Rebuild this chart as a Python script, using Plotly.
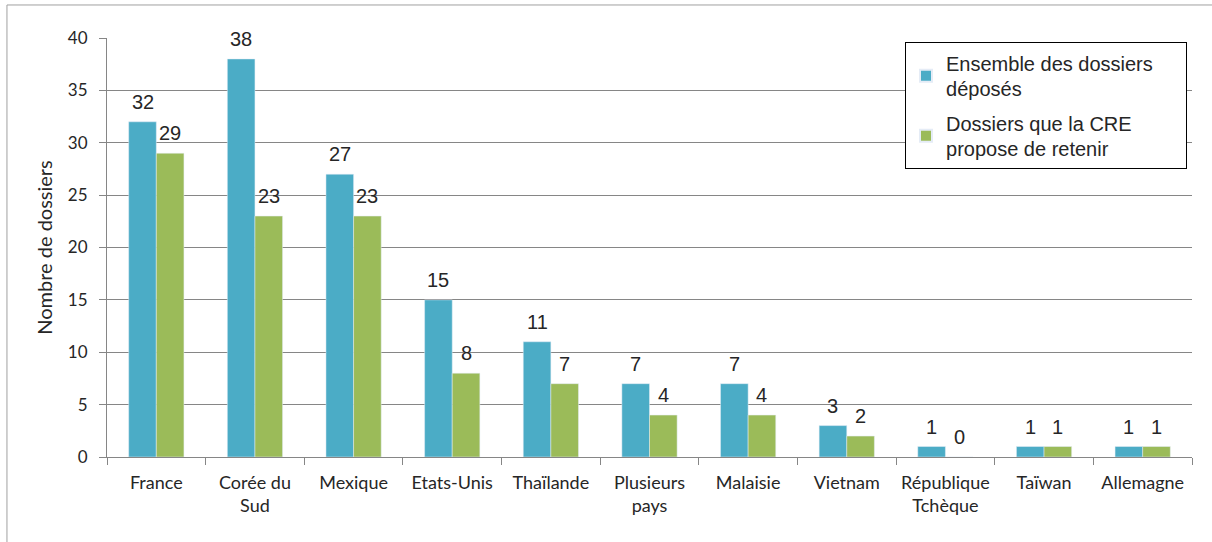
import plotly.graph_objects as go

categories = ["France", "Corée du<br>Sud", "Mexique", "Etats-Unis", "Thaïlande",
              "Plusieurs<br>pays", "Malaisie", "Vietnam", "République<br>Tchèque",
              "Taïwan", "Allemagne"]
deposes = [32, 38, 27, 15, 11, 7, 7, 3, 1, 1, 1]
retenus = [29, 23, 23, 8, 7, 4, 4, 2, 0, 1, 1]
series_names = ["Ensemble des dossiers<br>déposés", "Dossiers que la CRE<br>propose de retenir"]
y_ticks = [0, 5, 10, 15, 20, 25, 30, 35, 40]

BLUE = "#4BACC6"
GREEN = "#9BBB59"
TXT = "#262626"
ARIAL = "Liberation Sans, Arial, sans-serif"
CAL = "Lato, sans-serif"
PAD = "\u00a0" * 5  # widens the legend box

fig = go.Figure()
fig.add_trace(go.Bar(x=categories, y=deposes, name=series_names[0].replace("<br>", PAD + "<br>", 1),
                     marker_color=BLUE, legendgroup="a"))
fig.add_trace(go.Bar(x=categories, y=retenus, name=series_names[1], marker_color=GREEN,
                     legendgroup="b"))

# data labels above bars (positioned by the axes from the data values)
HALF_BAR = 13.8
annotations = []
for vals, shift in ((deposes, -HALF_BAR), (retenus, HALF_BAR)):
    for cat, v in zip(categories, vals):
        annotations.append(dict(x=cat, y=v, xref="x", yref="y", text=str(v),
                                showarrow=False, xshift=shift, yshift=7,
                                yanchor="bottom", xanchor="center",
                                font=dict(family=ARIAL, size=20, color=TXT)))

fig.update_layout(
    width=1212, height=542,
    margin=dict(l=107, r=20, t=38, b=85, autoexpand=False),
    paper_bgcolor="white", plot_bgcolor="white",
    barmode="group", bargap=0.44, bargroupgap=0,
    legend=dict(x=0.7355, y=0.99, xanchor="left", yanchor="top",
                bordercolor="#000000", borderwidth=1, bgcolor="white",
                font=dict(family=ARIAL, size=20, color=TXT),
                tracegroupgap=5, itemsizing="constant"),
    xaxis=dict(showline=True, linecolor="#868686", linewidth=1, automargin=False,
               ticks="outside", tickson="boundaries", ticklen=7, tickcolor="#868686",
               ticklabelstandoff=9,
               tickfont=dict(family=CAL, size=18, color=TXT),
               showgrid=False),
    yaxis=dict(range=[0, 40], tickvals=y_ticks, showline=True, linecolor="#868686",
               linewidth=1, ticks="outside", ticklen=7, tickcolor="#868686",
               automargin=False, ticklabelstandoff=8,
               showgrid=True, gridcolor="#868686", gridwidth=1, zeroline=False,
               tickfont=dict(family=CAL, size=17, color=TXT),
               title=dict(text="Nombre de dossiers", standoff=9,
                          font=dict(family=CAL, size=20, color=TXT))),
    annotations=annotations,
    shapes=[
        dict(type="line", xref="paper", yref="paper", x0=-0.0922, x1=1.1, y0=1.0788, y1=1.0788,
             line=dict(color="#A0A0A0", width=1)),
        dict(type="line", xref="paper", yref="paper", x0=-0.0922, x1=-0.0922, y0=-0.3, y1=1.0788,
             line=dict(color="#A0A0A0", width=1)),
    ],
)

fig.write_html("out.html", config={"displayModeBar": False},
               post_script="document.body.style.margin='0';")
